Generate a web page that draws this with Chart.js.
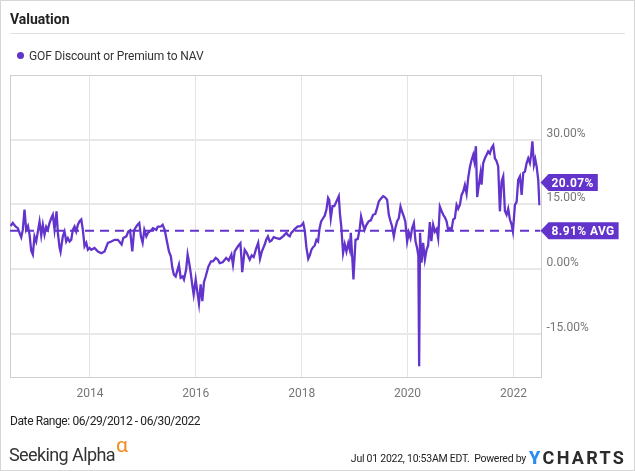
<!DOCTYPE html>
<html><head><meta charset="utf-8">
<script src="https://cdn.jsdelivr.net/npm/chart.js@4/dist/chart.umd.min.js"></script>
<style>
html,body{margin:0;padding:0;background:#fff;}
body{width:635px;height:471px;position:relative;overflow:hidden;font-family:Roboto,"Noto Sans",sans-serif;}
#frame{position:absolute;left:0;top:0;width:633px;height:469px;border:1px solid #d6d6d6;pointer-events:none;}
#title{position:absolute;left:10px;top:11px;line-height:16px;font-weight:bold;font-size:14px;color:#222;}
#rule{position:absolute;left:10px;top:33px;width:615px;height:1px;background:#e2e2e2;}
#legend{position:absolute;left:17px;top:48px;line-height:16px;font-size:12px;letter-spacing:-0.15px;color:#333;white-space:nowrap;}
.dot{display:inline-block;width:7px;height:7px;border-radius:50%;background:#6234cc;margin-right:5px;vertical-align:1px;}
#cwrap{position:absolute;left:0;top:0;width:635px;height:471px;}
#range{position:absolute;left:10px;top:413px;line-height:16px;font-size:12px;letter-spacing:-0.4px;color:#222;white-space:nowrap;}
#sa{position:absolute;left:9px;top:443px;line-height:22px;font-size:18px;color:#333;white-space:nowrap;letter-spacing:-0.6px;}
#sa span{color:#f28b20;font-size:21px;position:relative;top:-9px;margin-left:1px;}
#stamp{position:absolute;right:109px;top:452px;line-height:14px;font-size:10.5px;letter-spacing:-0.25px;color:#222;white-space:nowrap;text-align:right;}
#yc{position:absolute;left:529px;top:448px;line-height:20px;font-size:18px;font-weight:bold;letter-spacing:2.3px;color:#2b2b2b;white-space:nowrap;}
#yc b{color:#2a8ef0;}
</style></head>
<body>
<div id="cwrap"><canvas id="c" width="635" height="471"></canvas></div>
<div id="frame"></div>
<div id="title">Valuation</div>
<div id="rule"></div>
<div id="legend"><span class="dot"></span>GOF Discount or Premium to NAV</div>
<div id="range">Date Range: 06/29/2012 - 06/30/2022</div>
<div id="sa">Seeking Alpha<span>α</span></div>
<div id="stamp">Jul 01 2022, 10:53AM EDT.&nbsp; Powered by</div>
<div id="yc"><b>Y</b>CHARTS</div>
<script>
const seriesName = 'GOF Discount or Premium to NAV';
const dates = [2012.50,2012.543,2012.594,2012.637,2012.670,2012.702,2012.732,2012.764,2012.796,2012.830,2012.859,2012.891,2012.921,2012.953,2012.985,2013.016,2013.048,2013.080,2013.110,2013.142,2013.174,2013.205,2013.236,2013.269,2013.299,2013.331,2013.369,2013.394,2013.426,2013.445,2013.488,2013.520,2013.552,2013.583,2013.615,2013.647,2013.677,2013.709,2013.741,2013.772,2013.804,2013.836,2013.866,2013.898,2013.931,2013.961,2013.993,2014.025,2014.087,2014.150,2014.214,2014.276,2014.339,2014.403,2014.465,2014.528,2014.598,2014.630,2014.687,2014.724,2014.758,2014.800,2014.834,2014.862,2014.900,2014.932,2014.963,2014.995,2015.027,2015.065,2015.095,2015.165,2015.189,2015.254,2015.278,2015.341,2015.373,2015.411,2015.448,2015.492,2015.528,2015.556,2015.586,2015.619,2015.681,2015.713,2015.751,2015.776,2015.817,2015.845,2015.874,2015.908,2015.936,2015.959,2015.997,2016.025,2016.059,2016.091,2016.123,2016.154,2016.186,2016.237,2016.286,2016.324,2016.375,2016.418,2016.450,2016.507,2016.573,2016.621,2016.672,2016.702,2016.734,2016.796,2016.842,2016.861,2016.876,2016.923,2016.961,2017.018,2017.055,2017.093,2017.140,2017.178,2017.212,2017.244,2017.301,2017.329,2017.362,2017.396,2017.428,2017.471,2017.522,2017.585,2017.647,2017.679,2017.711,2017.745,2017.774,2017.802,2017.836,2017.868,2017.925,2017.963,2018.000,2018.029,2018.057,2018.089,2018.123,2018.152,2018.184,2018.208,2018.246,2018.278,2018.309,2018.335,2018.365,2018.403,2018.435,2018.467,2018.498,2018.520,2018.549,2018.581,2018.615,2018.656,2018.700,2018.724,2018.747,2018.781,2018.813,2018.845,2018.879,2018.908,2018.927,2018.951,2018.977,2019.016,2019.059,2019.097,2019.121,2019.154,2019.186,2019.220,2019.267,2019.305,2019.348,2019.390,2019.424,2019.456,2019.494,2019.537,2019.569,2019.613,2019.645,2019.677,2019.707,2019.740,2019.768,2019.802,2019.834,2019.866,2019.896,2019.929,2019.957,2019.991,2020.023,2020.055,2020.085,2020.118,2020.150,2020.180,2020.203,2020.218,2020.235,2020.263,2020.293,2020.326,2020.358,2020.388,2020.420,2020.448,2020.482,2020.515,2020.547,2020.577,2020.609,2020.641,2020.672,2020.704,2020.736,2020.766,2020.798,2020.830,2020.861,2020.893,2020.925,2020.955,2020.987,2021.019,2021.050,2021.082,2021.114,2021.144,2021.176,2021.208,2021.239,2021.261,2021.290,2021.314,2021.346,2021.378,2021.397,2021.428,2021.460,2021.492,2021.522,2021.554,2021.586,2021.617,2021.649,2021.681,2021.711,2021.743,2021.775,2021.806,2021.838,2021.870,2021.900,2021.932,2021.961,2021.989,2022.027,2022.059,2022.089,2022.121,2022.154,2022.184,2022.216,2022.248,2022.278,2022.310,2022.333,2022.357,2022.386,2022.411,2022.437,2022.467,2022.490];
const values = [10.0,10.7,9.9,9.5,8.4,7.4,9.1,13.8,9.1,10.0,8.0,4.3,3.4,7.6,6.4,8.7,11.0,7.8,10.3,8.0,9.8,9.1,10.7,11.8,12.6,9.2,13.4,8.4,5.0,4.0,7.6,8.7,6.4,7.2,6.4,6.8,9.1,9.9,8.7,10.3,11.1,11.5,9.1,5.3,6.1,4.5,4.9,4.5,4.9,4.1,3.7,4.1,6.1,6.4,6.8,6.8,5.7,7.2,7.6,8.7,9.0,4.1,9.0,9.6,10.3,10.7,7.6,6.1,9.1,7.6,8.4,9.1,9.5,9.1,9.8,9.9,10.3,9.1,6.8,4.1,3.0,0.3,-1.3,-1.7,1.0,-2.0,-1.7,-2.4,-0.1,3.4,1.5,-1.3,-4.0,-5.9,-2.4,-5.0,-8.0,-3.5,-7.4,-3.0,-1.7,0.6,1.8,1.8,2.6,2.2,1.4,1.6,2.6,2.0,3.4,1.0,4.1,5.3,6.0,2.6,-0.7,4.5,3.8,2.2,3.2,2.8,4.8,6.1,2.4,4.0,5.7,6.8,7.6,6.4,6.6,7.4,7.2,7.0,7.6,8.0,8.4,7.8,7.6,8.4,8.8,9.3,9.9,9.9,10.2,10.7,9.0,5.0,2.4,3.2,4.5,5.0,5.5,6.8,6.4,9.3,11.0,11.8,12.4,13.8,16.5,16.0,11.8,14.6,14.6,15.7,16.9,12.5,9.9,3.7,5.8,4.1,6.0,4.5,8.4,3.5,-2.4,6.8,7.0,9.5,12.2,10.5,9.1,10.2,11.1,11.3,12.6,12.8,14.2,15.7,16.3,16.9,16.7,16.1,12.6,11.1,9.9,7.6,9.5,11.1,11.8,14.5,13.3,12.2,11.0,6.4,8.5,7.2,9.5,10.7,6.4,4.9,3.0,-22.5,8.4,1.5,6.1,2.2,4.5,5.5,10.9,6.5,10.3,8.7,9.3,7.2,14.5,13.5,12.6,12.0,11.1,9.1,9.5,9.1,11.5,11.8,14.9,14.0,14.9,17.2,18.0,19.5,17.5,21.1,23.6,25.3,26.5,25.0,28.5,16.7,19.6,22.3,19.6,24.6,25.7,26.5,27.3,26.8,28.1,28.7,25.7,25.0,23.8,13.4,20.3,21.5,13.5,12.6,14.0,11.5,10.5,8.7,14.9,15.6,20.7,21.5,17.2,22.3,22.6,24.6,25.7,24.6,26.5,29.6,24.2,25.5,23.8,20.7,14.8];
const avgValue = 8.91;
const lastValue = 20.07;
const yTickValues = [-15, 0, 15, 30];
const xTickYears = [2014, 2016, 2018, 2020, 2022];
const xRange = [2012.49, 2022.51];
const yRange = [-25, 45];

const PURPLE = '#6234cc';
const n = Math.min(dates.length, values.length);
const points = [];
for (let i = 0; i < n; i++) points.push({x: dates[i], y: values[i]});

const framePlugin = {
  id: 'frame',
  beforeDatasetsDraw(chart) {
    const a = chart.chartArea, ctx = chart.ctx;
    ctx.save();
    ctx.strokeStyle = '#cfcfcf';
    ctx.lineWidth = 1;
    ctx.strokeRect(Math.round(a.left) + 0.5, Math.round(a.top) + 0.5, Math.round(a.right - a.left), Math.round(a.bottom - a.top));
    ctx.restore();
  }
};

function tag(ctx, x, y, text) {
  ctx.save();
  ctx.font = 'bold 12px Roboto';
  ctx.letterSpacing = '0.4px';
  const w = ctx.measureText(text).width;
  const h = 17, a = 8, padL = 3, padR = 4;
  ctx.fillStyle = PURPLE;
  ctx.beginPath();
  ctx.moveTo(x, y);
  ctx.lineTo(x + a, y - h / 2);
  ctx.lineTo(x + a + padL + w + padR, y - h / 2);
  ctx.lineTo(x + a + padL + w + padR, y + h / 2);
  ctx.lineTo(x + a, y + h / 2);
  ctx.closePath();
  ctx.fill();
  ctx.fillStyle = '#fff';
  ctx.textBaseline = 'middle';
  ctx.textAlign = 'left';
  ctx.fillText(text, x + a + padL, y + 1);
  ctx.restore();
}

const tagPlugin = {
  id: 'tags',
  afterDraw(chart) {
    const ys = chart.scales.y, a = chart.chartArea, ctx = chart.ctx;
    tag(ctx, a.right, ys.getPixelForValue(lastValue), lastValue.toFixed(2) + '%');
    tag(ctx, a.right, ys.getPixelForValue(avgValue), avgValue.toFixed(2) + '% AVG');
  }
};

new Chart(document.getElementById('c'), {
  type: 'line',
  data: {
    datasets: [
      {label: seriesName, data: points, borderColor: PURPLE, borderWidth: 2.3, pointRadius: 0, tension: 0, order: 1},
      {label: 'Average', data: [{x: xRange[0], y: avgValue}, {x: xRange[1], y: avgValue}], borderColor: PURPLE, borderWidth: 2, borderDash: [9, 6], pointRadius: 0, order: 2}
    ]
  },
  options: {
    responsive: false,
    animation: false,
    devicePixelRatio: 1,
    layout: {padding: {left: 10, top: 75, right: 14.5, bottom: 64}},
    plugins: {legend: {display: false}, tooltip: {enabled: false}},
    scales: {
      x: {
        type: 'linear', min: xRange[0], max: xRange[1],
        afterBuildTicks: s => { s.ticks = xTickYears.map(v => ({value: v})); },
        afterFit: s => { s.height = 30; },
        ticks: {callback: v => String(v), color: '#777', font: {family: 'Roboto', size: 12}, padding: 10, maxRotation: 0, autoSkip: false},
        grid: {color: '#e4e4e4', lineWidth: 1, drawTicks: false},
        border: {display: false}
      },
      y: {
        position: 'right', min: yRange[0], max: yRange[1],
        afterBuildTicks: s => { s.ticks = yTickValues.map(v => ({value: v})); },
        afterFit: s => { s.width = 80; },
        ticks: {callback: v => Number(v).toFixed(2) + '%', color: '#777', font: {family: 'Roboto', size: 12}, padding: 6, labelOffset: -6},
        grid: {color: '#e8e8e8', lineWidth: 2, drawTicks: false},
        border: {display: false}
      }
    }
  },
  plugins: [framePlugin, tagPlugin]
});
</script>
</body></html>
